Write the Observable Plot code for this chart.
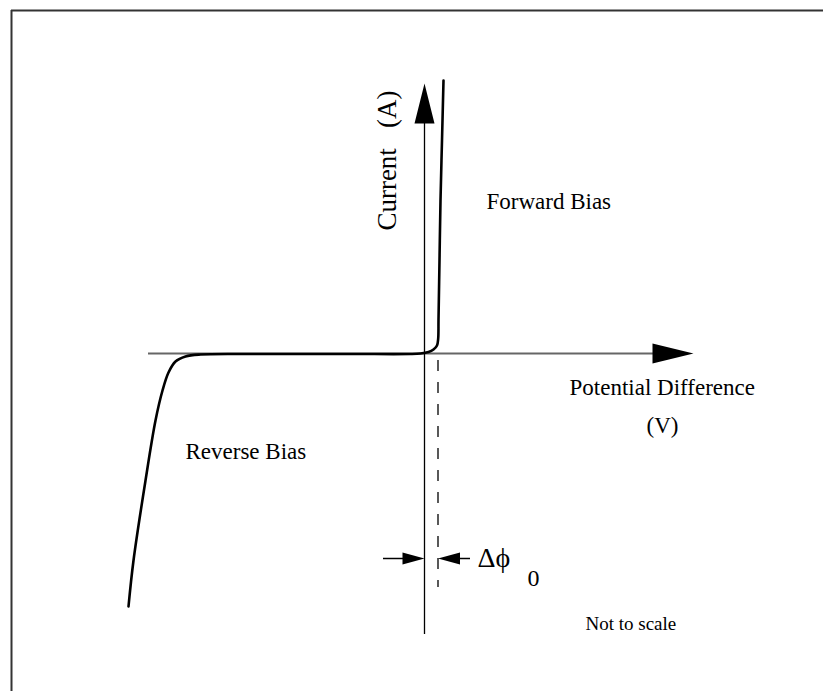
<!DOCTYPE html>
<html>
<head>
<meta charset="utf-8">
<script src="https://cdn.jsdelivr.net/npm/d3@7"></script>
<script src="https://cdn.jsdelivr.net/npm/@observablehq/plot@0.6"></script>
<style>
  html, body { margin: 0; padding: 0; background: #fff; }
</style>
</head>
<body>
<div id="chart"></div>
<script>
// Diode I–V characteristic (schematic, arbitrary units).
// Potential difference (V) and current (A) along the curve.
const voltage = [-5.92, -5.82, -5.58, -5.38, -5.24, -5.12, -4.98, -4.78, -4.48, -3.48, -1.48, -0.28, -0.08,
                 0.08, 0.18, 0.25, 0.274, 0.28, 0.30, 0.32, 0.35, 0.38];
const current = [-5.06, -4.14, -2.54, -1.34, -0.74, -0.38, -0.16, -0.06, -0.02, -0.01, -0.01, -0.01, 0,
                 0.03, 0.08, 0.16, 0.30, 0.66, 1.86, 3.06, 4.26, 5.46];

// Turn-on offset marked on the voltage axis
const offsetV = 0.27;

const labels = ["Forward Bias", "Reverse Bias", "Potential Difference", "(V)", "Not to scale"];

const curve = voltage.map((v, i) => ({V: v, I: current[i]}));

// Filled arrowhead: tip at the origin, pointing up before rotation
function head(length, width) {
  return {
    draw(ctx) {
      ctx.moveTo(0, 0);
      ctx.lineTo(width / 2, length);
      ctx.lineTo(-width / 2, length);
      ctx.closePath();
    }
  };
}

const chart = Plot.plot({
  width: 823,
  height: 691,
  margin: 0,
  x: {domain: [-8.48, 7.98], axis: null},
  y: {domain: [-6.76, 7.06], axis: null},
  style: {background: "#fff", fontFamily: "'Liberation Serif', 'Times New Roman', serif", color: "#000"},
  marks: [
    // border
    Plot.ruleX([-8.26], {y1: -6.76, y2: 6.86, stroke: "#333", strokeWidth: 2}),
    Plot.ruleY([6.86], {x1: -8.26, x2: 7.98, stroke: "#333", strokeWidth: 2}),

    // axes
    Plot.ruleY([0], {x1: -5.52, x2: 4.6, stroke: "#666", strokeWidth: 2}),
    Plot.ruleX([0], {y1: -5.62, y2: 4.62, stroke: "#000", strokeWidth: 1.3}),
    Plot.dot([{V: 0, I: 5.4}], {x: "V", y: "I", symbol: head(40, 20), fill: "#000", stroke: "none", rotate: 0}),
    Plot.dot([{V: 5.38, I: 0}], {x: "V", y: "I", symbol: head(41, 20), fill: "#000", stroke: "none", rotate: 90}),

    // offset marker
    Plot.ruleX([offsetV], {y1: -0.14, y2: -4.68, stroke: "#000", strokeWidth: 1.3, strokeDasharray: "11,11"}),
    Plot.ruleY([-4.1], {x1: -0.82, x2: -0.2, stroke: "#000", strokeWidth: 1.5}),
    Plot.ruleY([-4.1], {x1: offsetV + 0.3, x2: 0.92, stroke: "#000", strokeWidth: 1.5}),
    Plot.dot([{V: 0, I: -4.1}], {x: "V", y: "I", symbol: head(22, 12), fill: "#000", stroke: "none", rotate: 90}),
    Plot.dot([{V: offsetV, I: -4.1}], {x: "V", y: "I", symbol: head(22, 12), fill: "#000", stroke: "none", rotate: -90}),

    // characteristic curve
    Plot.line(curve, {x: "V", y: "I", curve: "catmull-rom", stroke: "#000", strokeWidth: 2.6}),

    // labels
    Plot.text(["Current   (A)"], {x: -0.74, y: 3.86, rotate: -90, fontSize: 27, textAnchor: "middle", lineAnchor: "middle"}),
    Plot.text([labels[0]], {x: 1.24, y: 3.04, fontSize: 23, textAnchor: "start", lineAnchor: "middle"}),
    Plot.text([labels[1]], {x: -4.78, y: -1.96, fontSize: 23, textAnchor: "start", lineAnchor: "middle"}),
    Plot.text([labels[2]], {x: 2.9, y: -0.68, fontSize: 23, textAnchor: "start", lineAnchor: "middle"}),
    Plot.text([labels[3]], {x: 4.76, y: -1.44, fontSize: 23, textAnchor: "middle", lineAnchor: "middle"}),
    Plot.text([labels[4]], {x: 3.22, y: -5.4, fontSize: 19, textAnchor: "start", lineAnchor: "middle"}),
    Plot.text(["Δϕ"], {x: 1.06, y: -4.1, fontSize: 28, textAnchor: "start", lineAnchor: "middle"}),
    Plot.text(["0"], {x: 2.06, y: -4.5, fontSize: 24, textAnchor: "start", lineAnchor: "middle"})
  ]
});

document.getElementById("chart").appendChild(chart);
</script>
</body>
</html>
